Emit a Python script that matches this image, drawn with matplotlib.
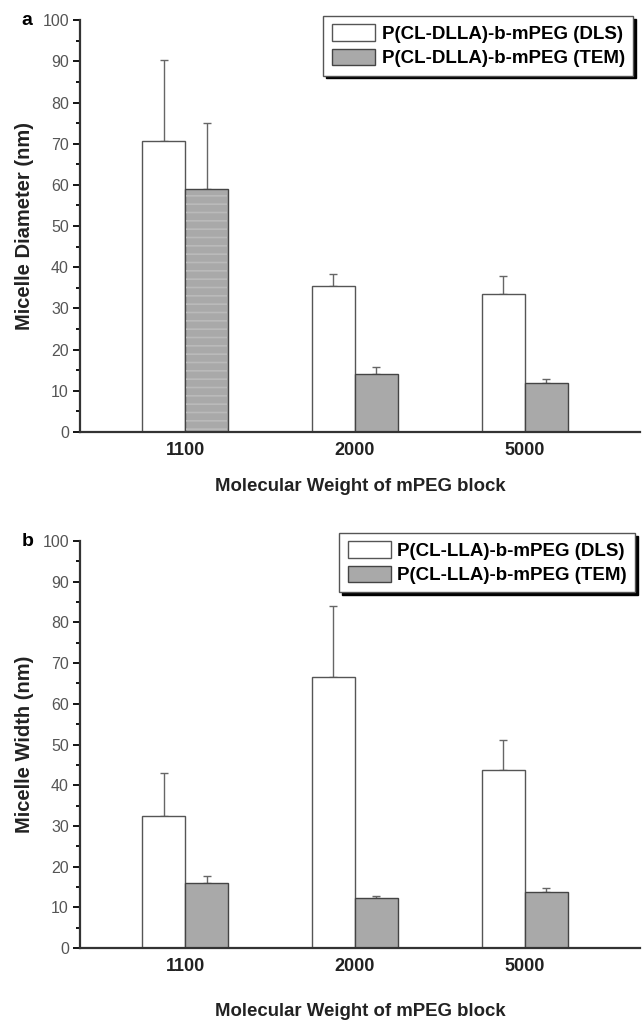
import numpy as np
import matplotlib
matplotlib.use('Agg')
import matplotlib.pyplot as plt

plt.rcParams['font.family'] = ['Liberation Sans', 'DejaVu Sans']
plt.rcParams['hatch.linewidth'] = 1.2

groups = ['1100', '2000', '5000']

# panel a: P(CL-DLLA)-b-mPEG
dlla_dls = [70.7, 35.5, 33.6]
dlla_dls_err = [19.7, 2.8, 4.2]
dlla_tem = [59.0, 14.2, 12.0]
dlla_tem_err = [16.0, 1.5, 0.8]

# panel b: P(CL-LLA)-b-mPEG
lla_dls = [32.5, 66.5, 43.7]
lla_dls_err = [10.6, 17.5, 7.4]
lla_tem = [16.0, 12.3, 13.7]
lla_tem_err = [1.8, 0.5, 1.0]


def draw_panel(ax, dls, dls_err, tem, tem_err, names, ylabel, letter,
               xlabel_pad, leg_anchor, striped):
    x = np.arange(len(groups))
    w = 0.253
    ax.bar(x - w / 2, dls, w, color='white', edgecolor='#555555', linewidth=1.0,
           label=names[0], zorder=2)
    ax.bar(x + w / 2, tem, w, color='#a9a9a9', edgecolor='#444444', linewidth=1.0,
           label=names[1], zorder=2)
    if striped:
        # faint horizontal streaks seen in the first TEM bar
        ax.bar(x[:1] + w / 2, tem[:1], w * 0.94, color='none', edgecolor='#bababa',
               linewidth=0, hatch='--', zorder=3)
    ax.errorbar(x - w / 2, dls, yerr=[np.zeros(3), dls_err], fmt='none',
                ecolor='#666666', elinewidth=1.0, capsize=3, capthick=1.0, zorder=1)
    ax.errorbar(x + w / 2, tem, yerr=[np.zeros(3), tem_err], fmt='none',
                ecolor='#666666', elinewidth=1.0, capsize=3, capthick=1.0, zorder=1)

    ax.set_xlim(-0.618, 2.676)
    ax.set_ylim(0, 100)
    ax.set_yticks(np.arange(0, 101, 10))
    ax.set_yticks(np.arange(5, 100, 10), minor=True)
    ax.set_xticks(x)
    ax.set_xticklabels(groups, fontweight='bold', fontsize=13)
    ax.tick_params(axis='x', length=0, pad=7, labelcolor='#222222')
    ax.tick_params(axis='y', which='major', length=5, width=1.3, labelsize=11.5,
                   labelcolor='#555555', direction='out', pad=3)
    ax.tick_params(axis='y', which='minor', length=3, width=1.3, direction='out')
    for s in ['top', 'right']:
        ax.spines[s].set_visible(False)
    for s in ['left', 'bottom']:
        ax.spines[s].set_linewidth(1.6)
        ax.spines[s].set_color('#333333')

    ax.set_ylabel(ylabel, fontweight='bold', fontsize=14.5, labelpad=6,
                  color='#222222')
    ax.set_xlabel('Molecular Weight of mPEG block', fontweight='bold',
                  fontsize=13.4, labelpad=xlabel_pad, color='#222222')
    ax.text(-0.105, 1.0, letter, transform=ax.transAxes, fontweight='bold',
            fontsize=14, ha='left', va='center')

    leg = ax.legend(loc='upper right', bbox_to_anchor=leg_anchor, frameon=True,
                    fancybox=False, shadow={'color': 'black', 'alpha': 1},
                    prop={'weight': 'bold', 'size': 13.5}, handlelength=2.3,
                    handleheight=0.95, borderpad=0.45, labelspacing=0.3,
                    handletextpad=0.35, borderaxespad=0.0)
    leg.get_frame().set_edgecolor('#555555')
    leg.get_frame().set_linewidth(1.0)


fig = plt.figure(figsize=(6.42, 10.22), dpi=100)
ax1 = fig.add_axes([0.1246, 0.5773, 0.872, 0.4030])
ax2 = fig.add_axes([0.1246, 0.0724, 0.872, 0.3982])

draw_panel(ax1, dlla_dls, dlla_dls_err, dlla_tem, dlla_tem_err,
           ['P(CL-DLLA)-b-mPEG (DLS)', 'P(CL-DLLA)-b-mPEG (TEM)'],
           'Micelle Diameter (nm)', 'a', 14, (0.988, 1.01), True)
draw_panel(ax2, lla_dls, lla_dls_err, lla_tem, lla_tem_err,
           ['P(CL-LLA)-b-mPEG (DLS)', 'P(CL-LLA)-b-mPEG (TEM)'],
           'Micelle Width (nm)', 'b', 20, (0.992, 1.02), False)

fig.savefig('out.png', dpi=100)
